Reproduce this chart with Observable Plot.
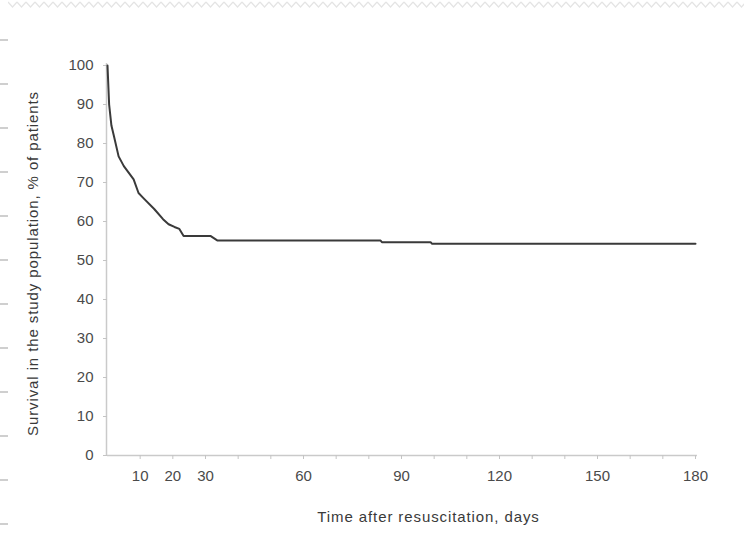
<!DOCTYPE html>
<html>
<head>
<meta charset="utf-8">
<script src="https://cdn.jsdelivr.net/npm/d3@7"></script>
<script src="https://cdn.jsdelivr.net/npm/@observablehq/plot@0.6"></script>
<style>
  html, body { margin: 0; padding: 0; background: #fff; }
  body { width: 744px; height: 548px; position: relative; overflow: hidden; }
  #zig {
    position: absolute; left: 8px; top: 0; width: 736px; height: 9px;
    background-image: url("data:image/svg+xml;utf8,<svg xmlns='http://www.w3.org/2000/svg' width='9' height='9'><polyline points='0,2 4.5,7 9,2' fill='none' stroke='%23e4e4e4' stroke-width='1.2'/></svg>");
    background-repeat: repeat-x;
  }
  #dash {
    position: absolute; left: 0; top: 0; width: 8px; height: 548px;
    background: repeating-linear-gradient(to bottom, transparent 0 39px, #cfcfcf 39px 41px, transparent 41px 44px);
  }
  #chart { position: absolute; left: 0; top: 0; }
</style>
</head>
<body>
<div id="zig"></div>
<div id="dash"></div>
<div id="chart"></div>
<script>
// Survival curve points (days after resuscitation, % surviving)
const days     = [0, 0.5, 1.2, 2, 3.4, 5, 8, 9.5, 11, 14.3, 17, 18.7, 20.5, 22, 23.3, 31.5, 33.7, 83.6, 84, 98.9, 99.3, 180];
const survival = [100, 90, 84.6, 81.8, 76.7, 74.2, 70.8, 67.3, 66, 63.2, 60.6, 59.3, 58.6, 58.1, 56.3, 56.3, 55.1, 55.1, 54.7, 54.7, 54.3, 54.3];

const xTickDays   = [10, 20, 30, 40, 50, 60, 70, 80, 90, 100, 110, 120, 130, 140, 150, 160, 170, 180];
const xTickLabels = [10, 20, 30, 60, 90, 120, 150, 180];
const yTicks      = [0, 10, 20, 30, 40, 50, 60, 70, 80, 90, 100];

const xTitle = "Time after resuscitation, days";
const yTitle = "Survival in the study population, % of patients";

const data = days.map((d, i) => ({day: d, surv: survival[i]}));

const chart = Plot.plot({
  width: 744,
  height: 548,
  marginLeft: 107,
  marginRight: 49,
  marginTop: 65,
  marginBottom: 93,
  style: {
    fontFamily: "'Liberation Sans', Arial, sans-serif",
    fontSize: "15px",
    background: "transparent",
    color: "#505050"
  },
  x: {domain: [0, 180]},
  y: {domain: [0, 100]},
  marks: [
    Plot.ruleY([0], {x1: 0, x2: 180.6, stroke: "#cacaca", strokeWidth: 1.5}),
    Plot.ruleX([0], {y1: 0, y2: 100.5, stroke: "#cacaca", strokeWidth: 1.5, dx: -1}),
    Plot.axisX({
      ticks: xTickDays,
      tickSize: 4,
      tickPadding: 11,
      tickFormat: d => xTickLabels.includes(d) ? String(d) : "",
      stroke: "#c4c4c4",
      fill: "#4a4a4a",
      label: null
    }),
    Plot.axisY({
      ticks: yTicks,
      tickSize: 4,
      tickPadding: 10,
      stroke: "#c4c4c4",
      fill: "#4a4a4a",
      label: null
    }),
    Plot.line(data, {x: "day", y: "surv", stroke: "#3a3a3a", strokeWidth: 2}),
    Plot.text([yTitle], {
      frameAnchor: "left", rotate: -90, dx: -74, dy: 3,
      textAnchor: "middle", lineAnchor: "middle",
      fill: "#3a3a3a", fontSize: 15
    }),
    Plot.text([xTitle], {
      frameAnchor: "bottom", dx: 27, dy: 62, lineAnchor: "middle",
      textAnchor: "middle",
      fill: "#3a3a3a", fontSize: 15
    })
  ]
});
d3.select(chart).selectAll("text")
  .filter(function() { const t = this.textContent; return t === xTitle || t === yTitle; })
  .style("letter-spacing", "0.9px");
document.getElementById("chart").append(chart);
</script>
</body>
</html>
